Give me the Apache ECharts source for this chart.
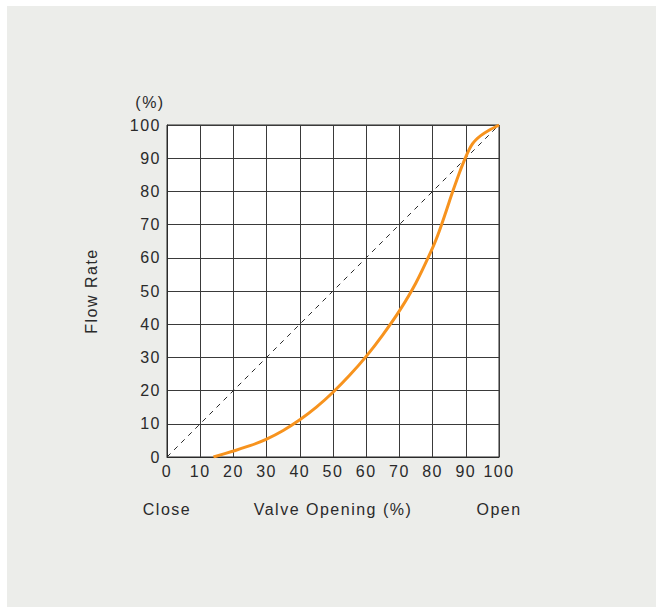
<!DOCTYPE html>
<html>
<head>
<meta charset="utf-8">
<script src="https://cdn.jsdelivr.net/npm/echarts@6/dist/echarts.min.js"></script>
<style>
  html, body { margin: 0; padding: 0; background: #ffffff; }
  #chart { width: 661px; height: 607px; }
  /* slightly tracked lettering for all chart text */
  #chart svg text { letter-spacing: 1.5px; }
</style>
</head>
<body>
<div id="chart"></div>
<script>
// Valve opening (%) vs flow rate (%) for the characteristic curve
const valveOpening = [14, 20, 25, 30, 35, 40, 45, 50, 55, 60, 65, 70, 75, 80, 82, 84, 86, 88, 89, 90, 91, 92, 93, 94.5, 97, 100];
const flowRate     = [0, 1.8, 3.4, 5.4, 8.0, 11.2, 15.0, 19.5, 24.6, 30.3, 36.8, 44, 52.5, 63, 68, 73.8, 79.8, 85.4, 88, 90.4, 92.6, 94.3, 95.5, 96.8, 98.4, 100];
// Linear reference line
const linearX = [0, 100];
const linearY = [0, 100];
const axisTicks = [0, 10, 20, 30, 40, 50, 60, 70, 80, 90, 100];

const textColor = '#2a2a2a';
const fontFamily = '"Liberation Sans", Arial, Helvetica, sans-serif';

const chart = echarts.init(document.getElementById('chart'), null, { renderer: 'svg' });

const axisCommon = {
  type: 'value',
  min: axisTicks[0],
  max: axisTicks[axisTicks.length - 1],
  interval: 10,
  axisLine: { show: true, lineStyle: { color: '#2a2a2a', width: 1 } },
  axisTick: { show: false },
  splitLine: { show: true, lineStyle: { color: '#3a3a3a', width: 1 } },
  axisLabel: { color: textColor, fontSize: 16, fontFamily: fontFamily }
};

chart.setOption({
  backgroundColor: '#ffffff',
  animation: false,
  graphic: [
    { type: 'rect', z: -10, shape: { x: 7, y: 6, width: 649, height: 601 }, style: { fill: '#ecedea' } },
    { type: 'text', x: 150, y: 102, style: { text: '(%)', fill: textColor, font: '16px ' + fontFamily, align: 'center', verticalAlign: 'middle' } },
    { type: 'text', x: 167, y: 509, style: { text: 'Close', fill: textColor, font: '16px ' + fontFamily, align: 'center', verticalAlign: 'middle' } },
    { type: 'text', x: 499, y: 509, style: { text: 'Open', fill: textColor, font: '16px ' + fontFamily, align: 'center', verticalAlign: 'middle' } },
    { type: 'text', x: 333, y: 509, style: { text: 'Valve Opening (%)', fill: textColor, font: '16px ' + fontFamily, align: 'center', verticalAlign: 'middle' } },
    { type: 'text', x: 91, y: 291, rotation: Math.PI / 2, style: { text: 'Flow Rate', fill: textColor, font: '16px ' + fontFamily, align: 'center', verticalAlign: 'middle' } }
  ],
  grid: {
    left: 167, right: 162, top: 125, bottom: 150,
    show: true, backgroundColor: '#ffffff', borderColor: '#2a2a2a', borderWidth: 1
  },
  xAxis: Object.assign({}, axisCommon, { axisLabel: Object.assign({}, axisCommon.axisLabel, { margin: 6 }) }),
  yAxis: Object.assign({}, axisCommon, { axisLabel: Object.assign({}, axisCommon.axisLabel, { margin: 6 }) }),
  series: [
    {
      type: 'line',
      data: linearX.map((x, i) => [x, linearY[i]]),
      symbol: 'none',
      lineStyle: { color: '#2a2a2a', width: 1, type: [5, 5] },
      z: 3
    },
    {
      type: 'line',
      data: valveOpening.map((x, i) => [x, flowRate[i]]),
      symbol: 'none',
      smooth: 0.3,
      lineStyle: { color: '#f7931e', width: 3 },
      z: 4
    }
  ]
});
</script>
</body>
</html>
